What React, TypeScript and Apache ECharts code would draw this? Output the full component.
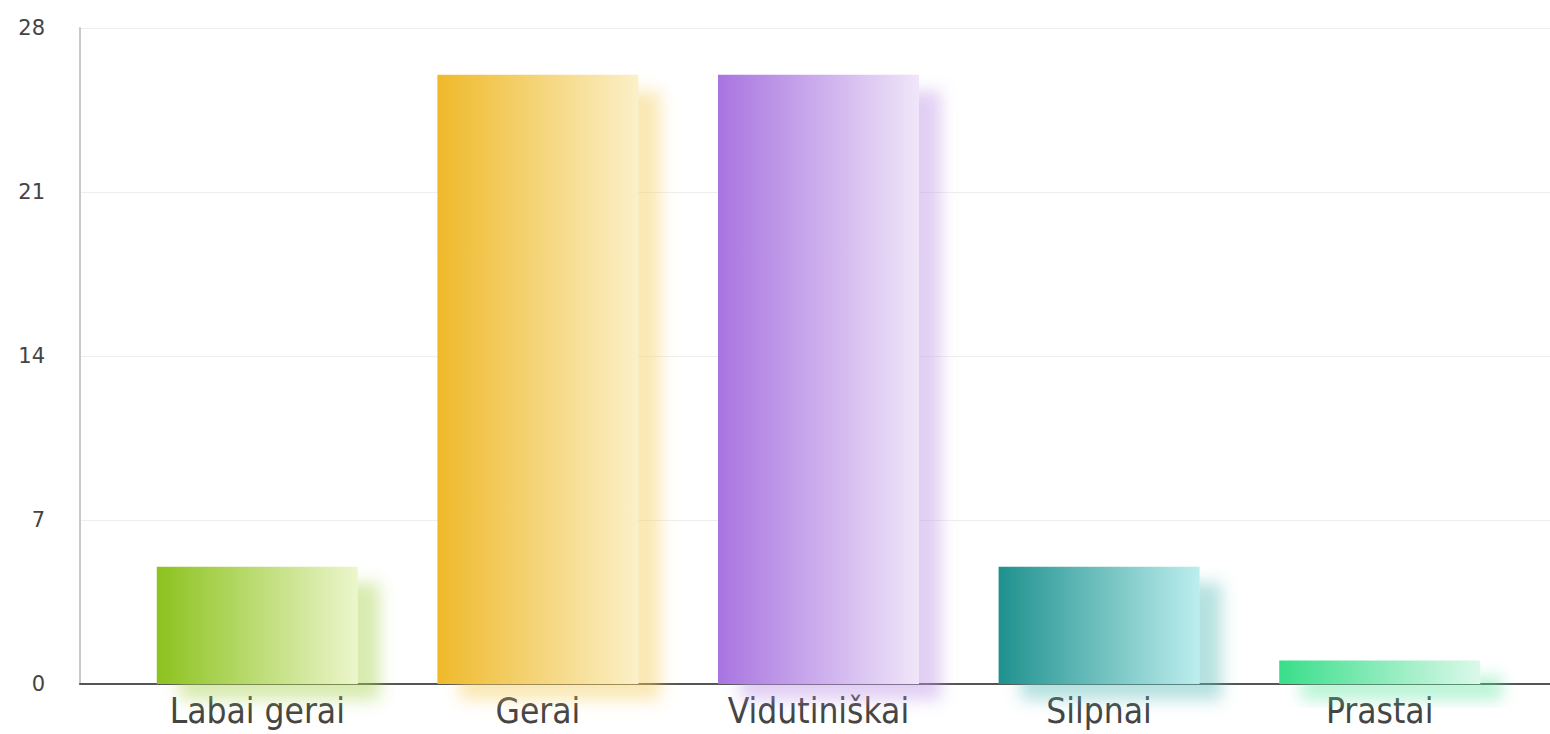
import React, { useEffect, useRef } from "react";
import * as echarts from "echarts";

const categories = ["Labai gerai", "Gerai", "Vidutiniškai", "Silpnai", "Prastai"];
const values = [5, 26, 26, 5, 1];
const leftColors = ["#8cc21e", "#efb92a", "#a874e0", "#1f918e", "#38de8a"];
const rightColors = ["#ecf6cc", "#fbf0c8", "#f0e6f9", "#bdeeee", "#dcf9ea"];
const shadowColors = [
  "rgba(170,210,80,0.45)",
  "rgba(245,205,90,0.45)",
  "rgba(190,150,230,0.45)",
  "rgba(90,190,185,0.45)",
  "rgba(100,230,160,0.45)",
];
const yTicks = [0, 7, 14, 21, 28];

export default function App() {
  const ref = useRef<HTMLDivElement>(null);
  useEffect(() => {
    if (!ref.current) return;
    const chart = echarts.init(ref.current, null, { renderer: "svg" });
    const yMin = yTicks[0];
    const yMax = yTicks[yTicks.length - 1];
    const interval = yTicks[1] - yTicks[0];
    chart.setOption({
      animation: false,
      grid: [
        { left: 80, right: 0, top: 28, bottom: 50 },
        { left: 117, right: 30, top: 28, bottom: 50 },
      ],
      xAxis: [
        {
          type: "category",
          gridIndex: 0,
          data: categories,
          axisLine: { show: true, lineStyle: { color: "#555", width: 2 } },
          axisTick: { show: false },
          axisLabel: { show: false },
        },
        {
          type: "category",
          gridIndex: 1,
          data: categories,
          axisLine: { show: false },
          axisTick: { show: false },
          axisLabel: {
            show: true,
            color: "#444",
            fontFamily: "DejaVu Sans Condensed",
            fontSize: 35,
            margin: 9,
          },
        },
      ],
      yAxis: [
        {
          type: "value",
          gridIndex: 0,
          min: yMin,
          max: yMax,
          interval,
          axisLine: { show: true, lineStyle: { color: "#c8c8c8", width: 2 } },
          axisTick: { show: false },
          axisLabel: {
            color: "#444",
            fontFamily: "DejaVu Sans",
            fontSize: 21,
            margin: 35,
          },
          splitLine: { show: true, lineStyle: { color: "#eeeeee", width: 1 } },
        },
        {
          type: "value",
          gridIndex: 1,
          min: yMin,
          max: yMax,
          interval,
          show: false,
          splitLine: { show: false },
        },
      ],
      series: [
        {
          type: "bar",
          xAxisIndex: 1,
          yAxisIndex: 1,
          barWidth: 201,
          data: values.map((v, i) => ({
            value: v,
            itemStyle: {
              color: new echarts.graphic.LinearGradient(0, 0, 1, 0, [
                { offset: 0, color: leftColors[i] },
                { offset: 1, color: rightColors[i] },
              ]),
              shadowColor: shadowColors[i],
              shadowBlur: 16,
              shadowOffsetX: 22,
              shadowOffsetY: 16,
            },
          })),
        },
      ],
    });
    return () => chart.dispose();
  }, []);
  return <div ref={ref} style={{ width: 1550, height: 734, position: "absolute", left: 0, top: 0 }} />;
}
